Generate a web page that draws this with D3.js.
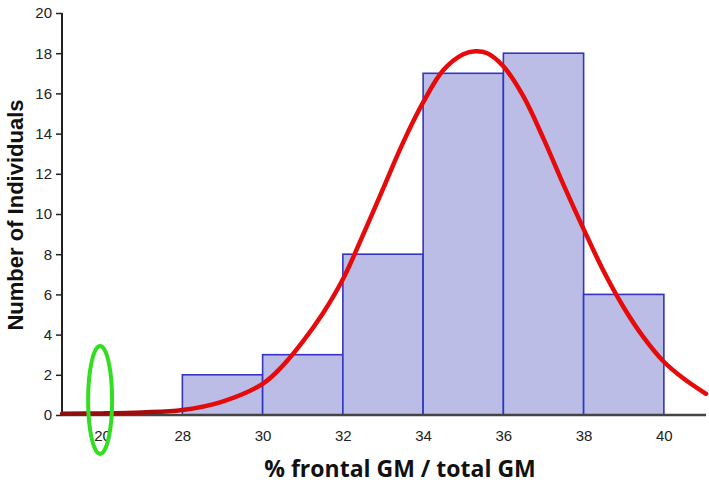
<!DOCTYPE html>
<html>
<head>
<meta charset="utf-8">
<script src="https://cdn.jsdelivr.net/npm/d3@7"></script>
<style>
    body { margin: 0; background: #fff; }
    text { font-family: "Liberation Sans", Arial, sans-serif; }
</style>
</head>
<body>
<script>
// Histogram bins (lower edge, upper edge) and counts
var binStart = [28, 30, 32, 34, 36, 38];
var binEnd   = [30, 32, 34, 36, 38, 40];
var counts   = [2, 3, 8, 17, 18, 6];

// Fitted curve
var curveX = [25, 26, 27, 28, 29, 30, 30.5, 31, 31.5, 32, 32.5, 33, 33.5, 34, 34.5, 35, 35.3, 35.6, 36, 36.5, 37, 37.5, 38, 38.5, 39, 39.5, 40, 40.5, 41.05];
var curveY = [0.01, 0.03, 0.08, 0.2, 0.62, 1.5, 2.4, 3.6, 5.0, 6.7, 8.9, 11.2, 13.5, 15.5, 17.1, 17.9, 18.05, 17.95, 17.3, 15.8, 13.7, 11.4, 9.2, 7.1, 5.3, 3.8, 2.6, 1.75, 1.0];

// Axis ticks
var xTickValues = [26, 28, 30, 32, 34, 36, 38, 40];
var xTickLabels = ["20", "28", "30", "32", "34", "36", "38", "40"];
var yTickValues = [0, 2, 4, 6, 8, 10, 12, 14, 16, 18, 20];

function init() {
    var w = 709, h = 485;

    var svg = d3.select("body")
                .append("svg")
                .attr("width", w)
                .attr("height", h);

    var x = d3.scaleLinear().domain([25, 41.05]).range([62, 706]);
    var y = d3.scaleLinear().domain([0, 20]).range([415, 13]);

    // bars
    svg.selectAll("rect.bar")
       .data(counts)
       .enter()
       .append("rect")
       .attr("class", "bar")
       .attr("x", (d, i) => x(binStart[i]))
       .attr("y", d => y(d))
       .attr("width", (d, i) => x(binEnd[i]) - x(binStart[i]))
       .attr("height", d => y(0) - y(d))
       .attr("fill", "#bbbde6")
       .attr("stroke", "#3434c0")
       .attr("stroke-width", 1.6);

    // gradient so the curve looks darker where it sits on the axis
    var grad = svg.append("defs").append("linearGradient")
                  .attr("id", "curveGrad")
                  .attr("gradientUnits", "userSpaceOnUse")
                  .attr("x1", x(25)).attr("x2", x(30)).attr("y1", 0).attr("y2", 0);
    grad.append("stop").attr("offset", "0%").attr("stop-color", "#8a0f0f");
    grad.append("stop").attr("offset", "45%").attr("stop-color", "#a50c0c");
    grad.append("stop").attr("offset", "70%").attr("stop-color", "#e60a0a");
    grad.append("stop").attr("offset", "100%").attr("stop-color", "#e60a0a");

    // axes
    var yAxis = d3.axisLeft(y)
                  .tickValues(yTickValues)
                  .tickSize(6)
                  .tickPadding(4);
    var gy = svg.append("g")
                .attr("transform", "translate(62,0)")
                .call(yAxis);
    gy.select(".domain").attr("stroke", "#222").attr("stroke-width", 2).attr("d", "M0,13V415");
    gy.selectAll(".tick line").attr("stroke", "#222").attr("stroke-width", 1.5);
    gy.selectAll("text").attr("font-size", 15).attr("fill", "#222");

    var xAxis = d3.axisBottom(x)
                  .tickValues(xTickValues)
                  .tickFormat((d, i) => xTickLabels[i])
                  .tickSize(0)
                  .tickPadding(15);
    var gx = svg.append("g")
                .attr("transform", "translate(0,415)")
                .call(xAxis);
    gx.select(".domain").attr("stroke", "#444").attr("stroke-width", 2.5).attr("d", "M62,0H706");
    gx.selectAll("text").attr("font-size", 15).attr("fill", "#222");

    // fitted curve
    var pts = curveX.map((v, i) => [v, curveY[i]]);
    var line = d3.line()
                 .x(d => x(d[0]))
                 .y(d => y(d[1]) - 1)
                 .curve(d3.curveCatmullRom.alpha(0.5));
    svg.append("path")
       .datum(pts)
       .attr("d", line)
       .attr("fill", "none")
       .attr("stroke", "url(#curveGrad)")
       .attr("stroke-width", 4.5)
       .attr("stroke-linecap", "round");

    // green highlight around the first tick
    svg.append("ellipse")
       .attr("cx", x(26) - 2)
       .attr("cy", 400)
       .attr("rx", 12)
       .attr("ry", 54)
       .attr("fill", "none")
       .attr("stroke", "#33dd22")
       .attr("stroke-width", 4);

    // axis titles
    svg.append("text")
       .attr("transform", "translate(23,215) rotate(-90)")
       .attr("text-anchor", "middle")
       .attr("font-size", 22)
       .attr("font-weight", "bold")
       .attr("fill", "#111")
       .text("Number of Individuals");

    svg.append("text")
       .attr("x", 400)
       .attr("y", 477)
       .attr("text-anchor", "middle")
       .attr("font-size", 23)
       .attr("font-weight", "bold")
       .attr("fill", "#111")
       .style("font-family", "'Open Sans', sans-serif")
       .text("% frontal GM / total GM");
}

window.onload = init;
</script>
</body>
</html>
